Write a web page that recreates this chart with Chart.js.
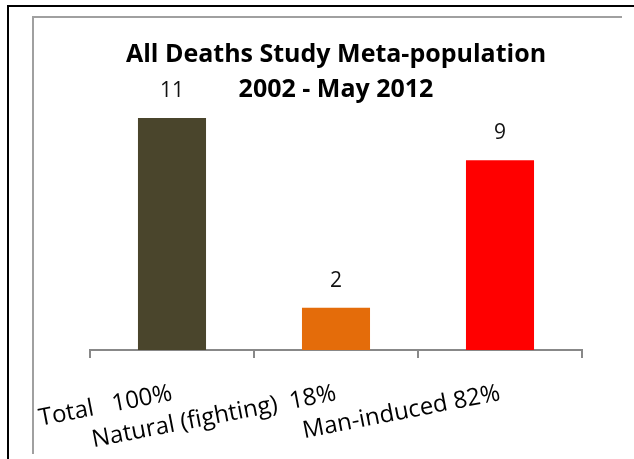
<!DOCTYPE html>
<html>
<head>
<meta charset="utf-8">
<script src="https://cdn.jsdelivr.net/npm/chart.js@4/dist/chart.umd.min.js"></script>
<style>
  html, body { margin: 0; padding: 0; background: #fff; }
  #wrap { position: relative; width: 634px; height: 459px; overflow: hidden; }
  #outer { position: absolute; left: 7px; top: 5px; width: 700px; height: 500px;
           border-top: 2px solid #000; border-left: 2px solid #000; }
  #inner { position: absolute; left: 32px; top: 16px; width: 588px; height: 436px;
           border-top: 2px solid #a0a0a0; border-left: 2px solid #a0a0a0; }
  canvas { position: absolute; left: 0; top: 0; }
</style>
</head>
<body>
<div id="wrap">
  <div id="outer"></div>
  <div id="inner"></div>
  <canvas id="chart" width="634" height="459"></canvas>
</div>
<script>
// Death counts by cause, 2002 - May 2012
const categories = ['Total   100%', 'Natural (fighting)  18%', 'Man-induced 82%'];
const deaths = [11, 2, 9];
const barColors = ['#4a452c', '#e46c0a', '#ff0000'];
const titleLines = ['All Deaths Study Meta-population', '2002 - May 2012'];

const FONT = '"Open Sans", "Liberation Sans", sans-serif';

// Writes each bar's value centred above it
const valueLabels = {
  id: 'valueLabels',
  afterDatasetsDraw(chart) {
    const ctx = chart.ctx;
    const meta = chart.getDatasetMeta(0);
    ctx.save();
    ctx.font = '21px ' + FONT;
    ctx.fillStyle = '#111';
    ctx.textAlign = 'center';
    ctx.textBaseline = 'middle';
    meta.data.forEach((bar, i) => {
      ctx.fillText(String(deaths[i]), bar.x, bar.y - 27);
    });
    ctx.restore();
  }
};

new Chart(document.getElementById('chart'), {
  type: 'bar',
  data: {
    labels: categories,
    datasets: [{
      data: deaths,
      backgroundColor: barColors,
      borderWidth: 0,
      categoryPercentage: 1,
      barPercentage: 0.415
    }]
  },
  options: {
    responsive: false,
    animation: false,
    layout: { padding: { left: 90, right: 52, top: 0, bottom: 0 } },
    plugins: {
      legend: { display: false },
      tooltip: { enabled: false },
      title: {
        display: true,
        text: titleLines,
        color: '#000',
        font: { family: FONT, size: 25, weight: 'bold', lineHeight: '35px' },
        padding: { top: 37.5, bottom: 0 }
      }
    },
    scales: {
      y: {
        display: false,
        min: 0,
        max: 11.5
      },
      x: {
        grid: {
          offset: true,
          drawOnChartArea: false,
          drawTicks: true,
          tickLength: 8,
          color: '#888',
          lineWidth: 2
        },
        border: { display: true, color: '#888', width: 2 },
        ticks: {
          autoSkip: false,
          minRotation: 11,
          maxRotation: 11,
          padding: 21,
          color: '#000',
          font: { family: FONT, size: 24 }
        },
        afterFit(scale) { scale.height = 109; }
      }
    }
  },
  plugins: [valueLabels]
});
</script>
</body>
</html>
